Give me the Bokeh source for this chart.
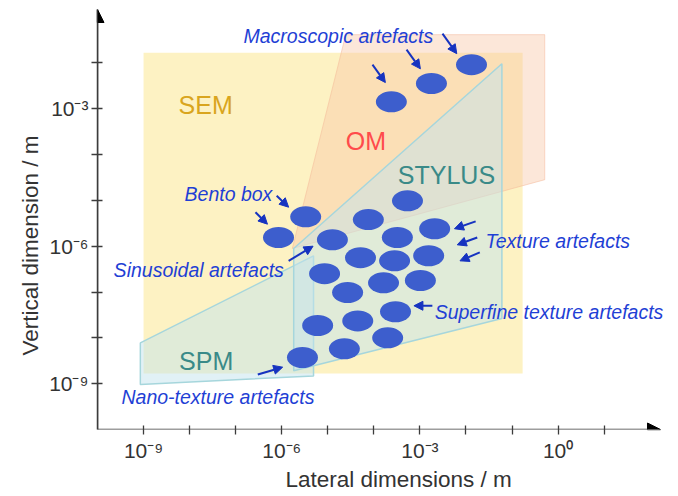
from bokeh.plotting import figure
from bokeh.models import Range1d, FixedTicker, Arrow, NormalHead, Title
from bokeh.core.properties import value
from bokeh.embed import file_html
from bokeh.resources import INLINE

# ---------------- data (log10 of metres) ----------------
artefact_lateral_exp = [-1.88, -2.75, -3.62, -3.27, -5.48, -4.12, -2.68, -6.07, -4.90, -3.49,
                        -4.29, -3.55, -2.81, -5.07, -3.79, -2.99, -4.57, -3.53, -4.35, -5.22,
                        -3.70, -4.64, -5.55]
artefact_vertical_exp = [-2.04, -2.45, -2.85, -5.01, -5.36, -5.42, -5.62, -5.81, -5.86, -5.81,
                         -6.25, -6.32, -6.21, -6.60, -6.80, -6.75, -7.01, -7.43, -7.63, -7.73,
                         -8.00, -8.24, -8.43]

sem_lateral_exp = [-9.0, -0.77, -0.77, -9.0]
sem_vertical_exp = [-8.78, -8.78, -1.78, -1.78]
om_lateral_exp = [-4.61, -0.29, -0.29, -5.77]
om_vertical_exp = [-1.385, -1.385, -4.55, -6.05]
stylus_lateral_exp = [-1.22, -1.22, -5.74, -5.74]
stylus_vertical_exp = [-2.02, -7.58, -8.72, -6.05]
spm_lateral_exp = [-9.07, -5.31, -5.31, -9.07]
spm_vertical_exp = [-8.11, -6.21, -8.83, -9.02]

x_tick_exp = list(range(-9, 2))
x_label_exp = [-9, -6, -3, 0]
y_tick_exp = list(range(-9, -1))
y_label_exp = [-9, -6, -3]

x_title = "Lateral dimensions / m"
y_title = "Vertical dimension / m"
region_names = ["SEM", "OM", "STYLUS", "SPM"]
annotation_texts = ["Macroscopic artefacts", "Bento box", "Sinusoidal artefacts",
                    "Nano-texture artefacts", "Texture artefacts", "Superfine texture artefacts"]

# ---------------- layout (positions in log10 units) ----------------
region_label_pos = [(-8.24, -2.93), (-4.61, -3.71), (-3.48, -4.44), (-8.23, -8.51)]
region_label_colors = ["#D9A51E", "#FF4B4B", "#3A8A88", "#3A8A88"]
annotation_pos = [(-6.83, -1.41), (-8.11, -4.855), (-9.65, -6.53), (-9.48, -9.28),
                  (-1.575, -5.88), (-2.68, -7.43)]
pointer_arrows = [
    ((-2.51, -1.363), (-2.20, -1.80)),
    ((-3.29, -1.71), (-2.99, -2.13)),
    ((-4.03, -2.04), (-3.75, -2.43)),
    ((-6.11, -4.90), (-5.85, -5.15)),
    ((-6.57, -5.26), (-6.31, -5.52)),
    ((-5.85, -6.32), (-5.32, -6.00)),
    ((-6.52, -8.80), (-5.98, -8.64)),
    ((-1.79, -5.46), (-2.25, -5.62)),
    ((-1.755, -5.81), (-2.19, -5.97)),
    ((-1.70, -6.135), (-2.13, -6.32)),
    ((-2.73, -7.30), (-3.13, -7.30)),
]

X_MIN, X_MAX = -10.0, 2.614      # frame runs to the page edge
X_ARROW = 2.223                  # tip of the lateral axis arrow
Y_MIN, Y_MAX = -10.0, -0.836

def e(v):
    return [10.0 ** a for a in v]

def lit(k):
    return float(f"1e{k}")

SUP = str.maketrans("-0123456789", "⁻⁰¹²³⁴⁵⁶⁷⁸⁹")

def tick_label(k):
    return "10" + str(k).translate(SUP)

FONT = value("Liberation Sans")
AXIS_COL = "#3C3C3C"
TEXT_COL = "#333333"

p = figure(width=678, height=496, x_axis_type="log", y_axis_type="log",
           x_range=Range1d(10 ** X_MIN, 10 ** X_MAX), y_range=Range1d(10 ** Y_MIN, 10 ** Y_MAX),
           output_backend="svg", toolbar_location=None,
           min_border_left=97, min_border_right=0, min_border_top=9, min_border_bottom=67)
p.outline_line_color = None
p.grid.visible = False
p.background_fill_color = "white"

# regions
p.patch(e(sem_lateral_exp), e(sem_vertical_exp), fill_color="#FDF2C3", line_color=None)
p.patch(e(om_lateral_exp), e(om_vertical_exp), fill_color="#F8C6A4", fill_alpha=0.42,
        line_color="#F5B898", line_alpha=0.5, line_width=1)
p.patch(e(spm_lateral_exp), e(spm_vertical_exp), fill_color="#C4E4EE", fill_alpha=0.5,
        line_color="#A6D6DC", line_width=1.5)
p.patch(e(stylus_lateral_exp), e(stylus_vertical_exp), fill_color="#C4E4EE", fill_alpha=0.5,
        line_color="#A6D6DC", line_width=1.5)

# artefacts
p.ellipse(e(artefact_lateral_exp), e(artefact_vertical_exp), width=31, height=21,
          width_units="screen", height_units="screen", fill_color="#3D5ECD", line_color=None)

# region labels
for name, (lx, ly), col in zip(region_names, region_label_pos, region_label_colors):
    p.text([10 ** lx], [10 ** ly], text=[name], text_color=col, text_font=FONT,
           text_font_size="25px", text_baseline="alphabetic", text_align="left")

# annotation texts
p.text([10 ** a for a, b in annotation_pos], [10 ** b for a, b in annotation_pos],
       text=annotation_texts, text_color="#1F3FD5", text_font=FONT, text_font_style="italic",
       text_font_size="19.5px", text_baseline="alphabetic", text_align="left")

# pointer arrows
for (sx, sy), (ex, ey) in pointer_arrows:
    p.add_layout(Arrow(x_start=10 ** sx, y_start=10 ** sy, x_end=10 ** ex, y_end=10 ** ey,
                       line_color="#1633C0", line_width=2,
                       end=NormalHead(size=9, fill_color="#1633C0", line_color="#1633C0")))

# axes
for ax, ticks, labels in [(p.xaxis[0], x_tick_exp, x_label_exp),
                          (p.yaxis[0], y_tick_exp, y_label_exp)]:
    ax.ticker = FixedTicker(ticks=[lit(k) for k in ticks], minor_ticks=[])
    ax.major_label_overrides = {lit(k): (tick_label(k) if k in labels else "") for k in ticks}
    ax.axis_line_color = AXIS_COL
    ax.axis_line_width = 1.5
    ax.major_tick_line_color = AXIS_COL
    ax.major_tick_line_width = 1.3
    ax.minor_tick_line_color = None
    ax.major_label_text_font = "Liberation Sans"
    ax.major_label_text_font_size = "21px"
    ax.major_label_text_color = TEXT_COL

# lateral axis line is drawn by its arrow so it stops before the page edge
p.xaxis.axis_line_color = None
p.xaxis.major_tick_in = 4
p.xaxis.major_tick_out = 5
p.yaxis.major_tick_in = 5
p.yaxis.major_tick_out = 6
p.xaxis.major_label_standoff = 4
p.yaxis.major_label_standoff = 3

# axis titles (as side titles so they can be placed along the axis)
p.add_layout(Title(text=x_title, align="left", offset=188, standoff=0,
                   text_font="Liberation Sans", text_font_size="22.5px",
                   text_font_style="normal", text_color=TEXT_COL), "below")
p.add_layout(Title(text=y_title, align="left", offset=74, standoff=8,
                   text_font="Liberation Sans", text_font_size="22.5px",
                   text_font_style="normal", text_color=TEXT_COL), "left")

# axis arrows
p.add_layout(Arrow(x_start=10 ** X_MIN, y_start=10 ** Y_MIN, x_end=10 ** X_ARROW, y_end=10 ** Y_MIN,
                   line_color=AXIS_COL, line_width=1.5,
                   end=NormalHead(size=13, fill_color="black", line_color="black")))
p.add_layout(Arrow(x_start=10 ** X_MIN, y_start=10 ** Y_MIN, x_end=10 ** X_MIN, y_end=10 ** Y_MAX,
                   line_color=AXIS_COL, line_width=1.5,
                   end=NormalHead(size=13, fill_color="black", line_color="black")))

open("out.html", "w").write(file_html(p, INLINE))
